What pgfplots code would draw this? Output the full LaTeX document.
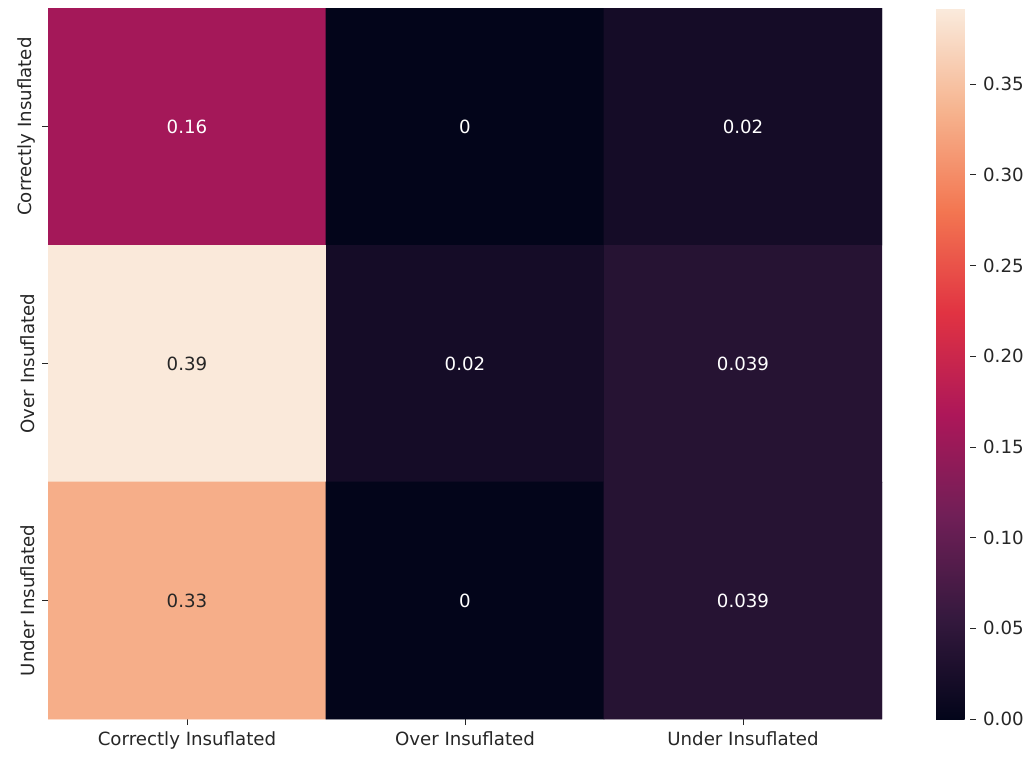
\documentclass[border=0pt]{standalone}
\usepackage{fontspec}
\setmainfont{DejaVu Sans}
\usepackage{pgfplots}
\pgfplotsset{compat=1.18}

\definecolor{labelgray}{HTML}{262626}
\pgfplotsset{
  colormap={rocket}{
    rgb255=(3,5,26) rgb255=(53,25,62) rgb255=(112,31,87) rgb255=(173,23,89)
    rgb255=(225,51,66) rgb255=(243,118,81) rgb255=(246,180,143) rgb255=(250,235,221)
  },
}
\newcommand{\lblfont}{\fontsize{9.1}{11}\selectfont}

\begin{document}
\begin{tikzpicture}
\useasboundingbox (0,0) rectangle (513pt,378pt);
\begin{axis}[
  at={(24pt,18.5pt)}, anchor=south west,
  scale only axis, width=417pt, height=355.5pt,
  xmin=-0.5, xmax=2.5, ymin=-0.5, ymax=2.5, y dir=reverse,
  axis line style={draw=none},
  xtick={0,1,2}, ytick={0,1,2},
  xticklabels={Correctly Insuflated, Over Insuflated, Under Insuflated},
  yticklabels={Correctly Insuflated, Over Insuflated, Under Insuflated},
  xtick pos=bottom, ytick pos=left,
  tick align=outside, major tick length=3pt,
  tick style={labelgray, line width=0.4pt},
  ticklabel style={font=\lblfont, text=labelgray},
  yticklabel style={rotate=90, anchor=south},
  colormap name=rocket,
  point meta min=0, point meta max=0.392,
  colorbar,
  colorbar style={
    at={(parent axis.north east)}, anchor=north west, xshift=18.5pt,
    scale only axis, width=17pt,
    axis line style={draw=none},
    ytick={0,0.05,0.10,0.15,0.20,0.25,0.30,0.35},
    ytick pos=right, tick align=outside, major tick length=3pt,
    tick style={labelgray, line width=0.4pt},
    yticklabel style={font=\lblfont, text=labelgray,
      /pgf/number format/.cd, fixed, fixed zerofill, precision=2,
      assume math mode=true},
  },
]
% cell fractions, rows = true class, columns = predicted class
\addplot[matrix plot*, mesh/cols=3, point meta=explicit] table[meta=c] {
x y c
0 0 0.16
1 0 0
2 0 0.02
0 1 0.39
1 1 0.02
2 1 0.039
0 2 0.33
1 2 0
2 2 0.039
};
% annotations on dark cells
\addplot[only marks, mark size=0pt, nodes near coords,
  point meta=explicit symbolic,
  nodes near coords style={anchor=center, text=white, font=\lblfont}]
  table[meta=t] {
x y t
0 0 0.16
1 0 0
2 0 0.02
1 1 0.02
2 1 0.039
1 2 0
2 2 0.039
};
% annotations on light cells
\addplot[only marks, mark size=0pt, nodes near coords,
  point meta=explicit symbolic,
  nodes near coords style={anchor=center, text=labelgray, font=\lblfont}]
  table[meta=t] {
x y t
0 1 0.39
0 2 0.33
};
\end{axis}
\end{tikzpicture}
\end{document}
